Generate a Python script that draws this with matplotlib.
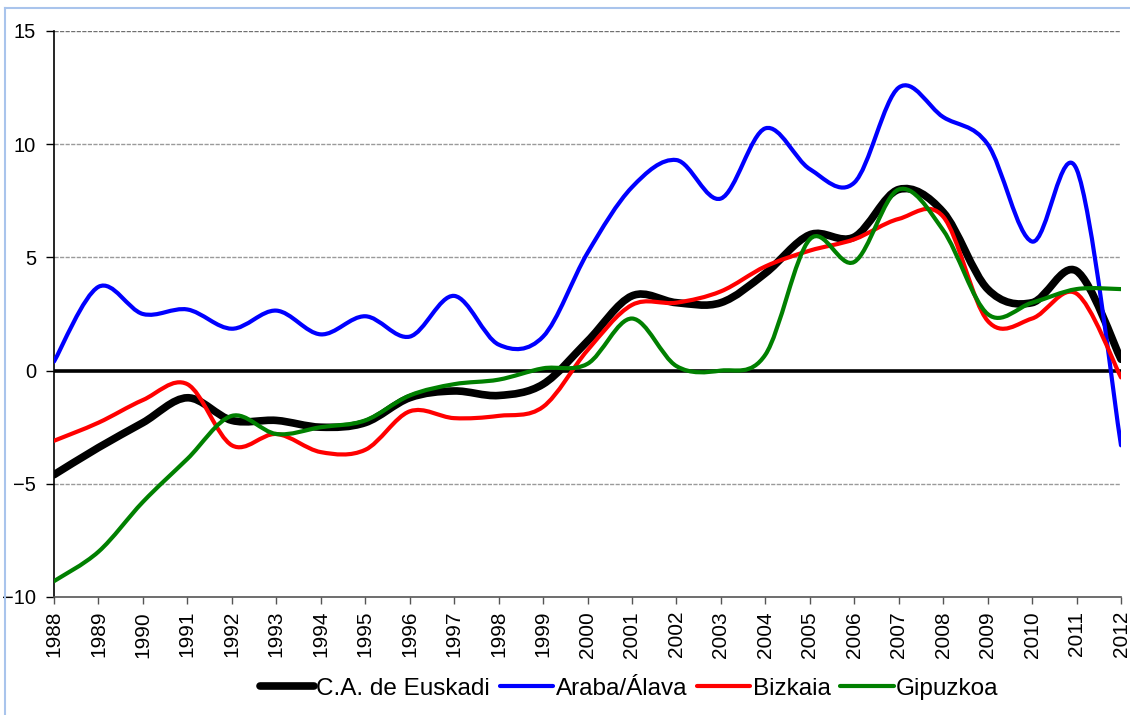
import matplotlib
matplotlib.use("Agg")
import matplotlib.pyplot as plt
from matplotlib.path import Path
from matplotlib.patches import PathPatch
from matplotlib.lines import Line2D
import numpy as np

plt.rcParams['font.family'] = ['Liberation Sans', 'DejaVu Sans']

years = list(range(1988, 2013))
euskadi = [-4.6, -3.4, -2.3, -1.2, -2.2, -2.2, -2.5, -2.3, -1.2, -0.9, -1.1, -0.6,
           1.3, 3.3, 3.0, 3.0, 4.3, 6.0, 5.9, 8.0, 7.0, 3.6, 3.0, 4.4, 0.5]
araba = [0.4, 3.7, 2.5, 2.7, 1.85, 2.65, 1.6, 2.4, 1.5, 3.3, 1.15, 1.5,
         5.2, 8.1, 9.3, 7.6, 10.7, 8.9, 8.3, 12.5, 11.2, 10.0, 5.7, 8.9, -3.3]
bizkaia = [-3.1, -2.3, -1.3, -0.6, -3.3, -2.8, -3.6, -3.5, -1.8, -2.1, -2.0, -1.6,
           0.9, 2.9, 3.0, 3.5, 4.6, 5.3, 5.8, 6.7, 6.8, 2.2, 2.3, 3.4, -0.3]
gipuzkoa = [-9.3, -8.0, -5.8, -3.9, -2.0, -2.8, -2.5, -2.2, -1.1, -0.6, -0.4, 0.1,
            0.3, 2.3, 0.2, 0.0, 0.7, 5.8, 4.8, 8.0, 6.2, 2.5, 3.0, 3.6, 3.6]

series_names = ["C.A. de Euskadi", "Araba/Álava", "Bizkaia", "Gipuzkoa"]
series_values = [euskadi, araba, bizkaia, gipuzkoa]
series_colors = ["#000000", "#0000FF", "#FF0000", "#008000"]
series_widths = [5.5, 3.0, 3.0, 3.0]


def smooth_path(xs, ys):
    """Excel-style smoothed line: cubic Bezier through every data point."""
    x = np.asarray(xs, float)
    y = np.asarray(ys, float)
    n = len(x)
    verts = [(x[0], y[0])]
    codes = [Path.MOVETO]
    for i in range(n - 1):
        xp, yp = (x[i - 1], y[i - 1]) if i > 0 else (x[i], y[i])
        xn2, yn2 = (x[i + 2], y[i + 2]) if i + 2 < n else (x[i + 1], y[i + 1])
        c1 = (x[i] + (x[i + 1] - xp) / 6.0, y[i] + (y[i + 1] - yp) / 6.0)
        c2 = (x[i + 1] - (xn2 - x[i]) / 6.0, y[i + 1] - (yn2 - y[i]) / 6.0)
        verts += [c1, c2, (x[i + 1], y[i + 1])]
        codes += [Path.CURVE4] * 3
    return Path(verts, codes)


W, H = 1130, 715
fig = plt.figure(figsize=(W / 100, H / 100), dpi=100)
fig.patch.set_facecolor("white")

# chart-area border (only top and left edges fall inside the picture)
border_kw = dict(transform=fig.transFigure, color="#A9C4EC", linewidth=1.5, zorder=0)
fig.lines.append(Line2D([5 / W, 5 / W], [0, 1 - 8 / H], **border_kw))
fig.lines.append(Line2D([5 / W, 1], [1 - 8 / H, 1 - 8 / H], **border_kw))

ax = fig.add_axes([54 / W, 1 - 597 / H, (1121 - 54) / W, (597 - 31) / H])
ax.set_xlim(1988, 2012)
ax.set_ylim(-10, 15)

for g in [-5, 5, 10, 15]:
    ax.axhline(g, color="#9a9a9a" if g != 15 else "#707070",
               linewidth=1.0, linestyle=(0, (3, 1)), zorder=1)
ax.axhline(0, color="black", linewidth=2.6, zorder=2)

handles = []
for name, vals, col, lw in zip(series_names, series_values, series_colors, series_widths):
    patch = PathPatch(smooth_path(years, vals), fill=False, edgecolor=col,
                      linewidth=lw, capstyle="round", joinstyle="round",
                      transform=ax.transData, zorder=3)
    ax.add_patch(patch)
    handles.append(Line2D([], [], color=col, linewidth=lw, solid_capstyle="round"))

ax.set_yticks([-10, -5, 0, 5, 10, 15])
ax.set_xticks(years)
ax.set_xticklabels([str(y) for y in years], rotation=90)
ax.tick_params(axis="y", direction="out", length=6, width=1, pad=7, labelsize=14.5)
ax.tick_params(axis="x", direction="out", length=5, width=1, pad=5, labelsize=15,
               color="#555555")

for s in ["top", "right"]:
    ax.spines[s].set_visible(False)
ax.spines["left"].set_color("black")
ax.spines["left"].set_linewidth(1.2)
ax.spines["bottom"].set_color("#555555")
ax.spines["bottom"].set_linewidth(1.2)

fig.legend(handles, series_names, loc="center", bbox_to_anchor=(0.557, 0.037),
           ncol=4, frameon=False, fontsize=17.5, handlelength=2.2,
           handletextpad=0.1, columnspacing=0.4)

fig.savefig("out.png", dpi=100)
